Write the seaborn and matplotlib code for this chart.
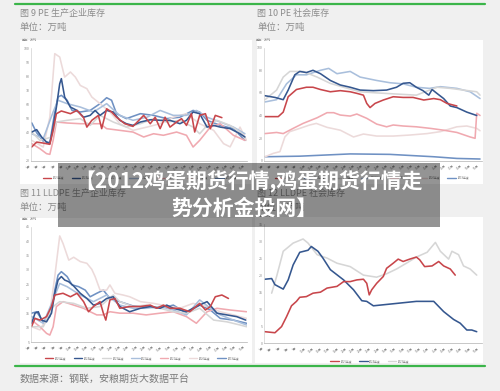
import matplotlib
matplotlib.use("Agg")
import matplotlib.pyplot as plt
from matplotlib.patches import Rectangle
from matplotlib.lines import Line2D
import seaborn as sns
import pandas as pd

# ---------------- data ----------------
years = ["2025年度", "2024年度", "2023年度", "2022年度", "2021年度", "2020年度", "2019年度"]
colors = ["#c8464b", "#35578f", "#d6d6d6", "#a9bfdc", "#f0a9b0", "#ecdada", "#6f91c3"]
tick_labels = [f"{w}周" for w in range(1, 54, 2)]

# Panel 1: PE 生产企业库存
p1_2025_x = [0, 0.6, 1.4, 2.2, 2.6, 3.0, 3.6, 4.7, 5.5, 6.3, 6.7, 7.3, 8.1, 8.5, 9.1, 9.7, 10.3, 11.3, 12.3, 13.6, 14.4, 15.0, 15.6, 16.2, 16.8, 17.6, 18.2, 18.8, 19.4, 19.8, 20.4, 21.1, 21.7, 22.3, 23.1]
p1_2025_y = [29.9, 33.4, 32.7, 31.8, 41.7, 53.5, 55.4, 53.5, 55.8, 50.7, 44, 48.8, 52.3, 42.9, 57, 54.7, 51, 46.4, 44.5, 52.3, 46.4, 51, 42.9, 51, 44, 47.6, 50, 45.2, 53.5, 40.5, 52.3, 53.5, 42.9, 52.3, 50.7]
p1_2024_x = [0, 0.6, 1.2, 1.8, 2.2, 2.6, 3.0, 3.4, 3.6, 4.0, 4.7, 5.5, 6.3, 7.1, 7.7, 8.3, 9.1, 9.9, 10.7, 11.5, 12.3, 13.2, 14.4, 15.6, 16.8, 18.0, 18.8, 19.6, 20.4, 21.3, 22.1, 22.9, 24.1, 25.3, 25.9]
p1_2024_y = [40.5, 42.2, 37, 33.4, 32.3, 44, 58.2, 74.7, 78.3, 65.3, 58.2, 55.8, 51, 52.3, 55.8, 52.3, 55.8, 54.7, 48.8, 46.4, 45.2, 47.6, 49.2, 48.8, 48.8, 46.4, 48.8, 54.7, 53.5, 44, 45.2, 44, 42.9, 39.3, 37]
p1_2023_x = [0, 1.0, 2.4, 3.0, 4.3, 5.9, 7.1, 8.3, 9.9, 11.5, 13.2, 14.8, 16.4, 18.0, 19.6, 20.4, 21.3, 22.5, 24.1, 25.3, 25.9]
p1_2023_y = [40.5, 34.6, 36.9, 47.6, 48.8, 50, 45.2, 52.3, 47.6, 44, 46.4, 50, 47.6, 48.8, 44, 39.3, 45.2, 48.8, 45.2, 40.5, 35.8]
p1_2022_x = [0, 1.4, 2.6, 3.2, 4.3, 5.9, 7.5, 9.1, 10.7, 12.3, 14.0, 15.6, 17.2, 18.8, 20.0, 21.3, 22.9, 24.5, 25.9]
p1_2022_y = [39.3, 35.8, 54.7, 63, 60.6, 58.2, 54.7, 60.6, 52.3, 48.8, 51, 55.8, 52.3, 52.3, 55.8, 51, 47.6, 44, 39.3]
p1_2021_x = [0, 1.0, 1.8, 2.2, 2.6, 3.0, 4.3, 5.9, 7.1, 8.3, 9.1, 10.7, 12.3, 13.6, 14.8, 16.0, 17.6, 18.8, 19.6, 20.4, 21.7, 22.9, 24.5, 25.9]
p1_2021_y = [32.3, 28.7, 25.2, 24.7, 34.6, 47.6, 46.9, 46.4, 46.4, 46.4, 42.9, 41.7, 40.5, 37, 39.3, 38.2, 40.5, 38.2, 29.9, 34.6, 44, 46.4, 38.2, 34.6]
p1_2020_x = [0, 1.4, 2.2, 2.8, 3.4, 4.0, 4.7, 5.3, 5.9, 6.7, 7.3, 8.3, 9.5, 10.7, 12.3, 14.0, 15.6, 17.2, 18.8, 20.4, 22.1, 23.3, 24.1, 25.3, 26.1]
p1_2020_y = [34.6, 29.9, 51, 96, 93.6, 79.4, 83, 79.4, 73.5, 71.2, 65.3, 60.6, 54.7, 46.4, 41.7, 44, 46.4, 51, 53.5, 46.4, 41.7, 32.3, 30, 44, 34.6]
p1_2019_x = [0, 0.6, 1.4, 2.2, 2.8, 3.2, 3.6, 4.3, 4.9, 5.9, 7.1, 8.3, 9.1, 9.7, 10.3, 11.5, 13.2, 14.8, 16.4, 18.0, 19.6, 20.4, 21.3, 22.9, 24.5, 25.9]
p1_2019_y = [47, 40, 34, 33, 54.7, 65.3, 66.5, 63, 55.8, 54.7, 55.8, 60.6, 64.8, 63, 53.5, 50, 53.5, 52.3, 50, 51, 55.8, 54.7, 48.8, 45.2, 42.9, 34.6]

# Panel 2: PE 社会库存
p2_2025_x = [0, 1.6, 2.2, 2.8, 3.8, 5.0, 5.8, 6.7, 7.9, 9.1, 10.3, 11.1, 11.9, 12.3, 12.7, 13.3, 14.3, 15.5, 16.7, 17.9, 19.2, 20.4, 21.2, 22.0, 23.2]
p2_2025_y = [39, 39, 43, 56.6, 63, 65, 65, 63, 61, 62, 61, 59.6, 58, 50.7, 47, 50.7, 53.7, 56.6, 56, 56, 53.7, 55, 54, 50.7, 48.4]
p2_2024_x = [0, 1.2, 2.2, 2.8, 3.6, 4.2, 5.0, 5.8, 6.7, 7.9, 9.1, 10.3, 11.5, 13.1, 14.7, 15.9, 16.7, 17.5, 18.3, 19.1, 19.8, 20.2, 20.8, 21.6, 22.4, 23.2, 24.4, 25.6]
p2_2024_y = [57.5, 56, 54, 62.5, 76, 79, 78, 80, 77, 71, 67, 65, 62.5, 62, 62.5, 65, 68.5, 69, 65, 62, 58, 63, 59.5, 55, 48.4, 47, 43, 40]
p2_2023_x = [0, 1.4, 2.2, 3.0, 4.6, 6.3, 7.9, 9.5, 11.5, 13.5, 15.9, 18.3, 19.9, 20.8, 22.4, 24.0, 25.6, 26.0]
p2_2023_y = [54, 62.5, 74, 79, 79, 74, 68.4, 65, 61, 60, 59, 58, 62.5, 65, 64, 62.5, 61, 58]
p2_2022_x = [0, 1.4, 2.6, 3.8, 5.0, 6.7, 7.7, 8.7, 10.3, 11.5, 13.5, 15.1, 16.7, 18.3, 19.9, 21.2, 23.2, 24.8, 26.0]
p2_2022_y = [52, 54, 68, 76, 76, 80, 81.7, 77, 79, 74, 71, 69, 68, 65, 64, 65.5, 64, 61, 55]
p2_2021_x = [0, 1.4, 2.2, 3.4, 4.6, 6.3, 7.5, 8.3, 9.1, 10.3, 11.1, 12.3, 13.5, 14.7, 15.5, 16.7, 18.3, 20.0, 21.6, 23.2, 24.8, 25.4, 25.6, 26.0]
p2_2021_y = [24, 25, 24, 28.6, 33, 38, 42.5, 42.5, 40.4, 39.5, 41.3, 37.5, 32.4, 30, 31.6, 30.7, 30, 28.6, 27, 25, 21, 19.8, 42, 40]
p2_2020_x = [0, 1.0, 1.8, 2.4, 3.0, 4.2, 5.4, 6.2, 7.5, 9.1, 10.7, 11.9, 13.5, 15.5, 17.5, 19.6, 21.2, 23.2, 24.4, 25.6, 26.0]
p2_2020_y = [3.5, 6.5, 8, 21, 25.7, 28.6, 31.6, 33, 29.5, 27, 21, 23.6, 21.8, 21.8, 22.7, 24, 25.7, 30, 30.7, 28.6, 26.5]
p2_2019_x = [0, 4.2, 10.3, 15.1, 20.4, 23.2, 26.0]
p2_2019_y = [3.5, 4, 6, 5.6, 3.5, 2, 1.5]

# Panel 3: LLDPE 生产企业库存
p3_2025_x = [0, 0.4, 1.0, 1.8, 2.4, 2.8, 3.8, 4.7, 5.5, 6.3, 6.9, 7.5, 8.3, 8.7, 9.0, 9.5, 10.1, 10.7, 11.9, 13.2, 14.4, 15.2, 16.0, 16.8, 18.0, 19.2, 20.4, 21.1, 21.7, 22.3, 23.1, 23.9]
p3_2025_y = [10.5, 13.2, 12.6, 13.8, 17.3, 21.3, 21.9, 20.7, 21.9, 19, 15.5, 17.3, 19, 15, 12.6, 19.6, 20.1, 16.7, 17.3, 17.3, 17.8, 16.7, 17.8, 16.7, 16.7, 15.5, 18.4, 16.1, 17.3, 20.7, 21.3, 20.1]
p3_2024_x = [0, 0.4, 0.8, 1.2, 1.8, 2.4, 2.8, 3.2, 3.6, 4.0, 4.5, 5.1, 5.9, 6.7, 7.5, 8.3, 9.1, 9.9, 10.7, 11.9, 13.2, 14.4, 15.6, 16.4, 17.2, 18.8, 20.0, 21.3, 22.5, 23.7, 24.9, 26.0]
p3_2024_y = [11.5, 15, 15.5, 12.6, 12, 15, 21.9, 26.5, 27.7, 26.5, 25.9, 24.4, 21.9, 20.1, 17.8, 18.4, 20.1, 20.7, 17.3, 15.5, 16.7, 17.3, 16.7, 17.8, 16.7, 15.5, 17.3, 19, 15, 14.4, 13.8, 12.6]
p3_2023_x = [0, 1.4, 2.6, 3.4, 5.1, 6.7, 8.3, 9.9, 10.7, 12.3, 13.9, 15.6, 17.2, 18.8, 20.4, 22.1, 23.7, 25.3, 26.1]
p3_2023_y = [10.3, 10.3, 17.3, 19, 18.4, 16.7, 17.3, 21.3, 19, 17.3, 17.8, 16.7, 15.5, 15, 16.7, 12.6, 12, 10.9, 10.3]
p3_2022_x = [0, 1.4, 2.6, 3.4, 4.3, 5.9, 7.5, 9.1, 10.7, 12.3, 13.9, 15.6, 17.2, 18.8, 20.4, 21.7, 22.9, 24.5, 26.1]
p3_2022_y = [13.8, 11.5, 19.6, 25.3, 24.2, 21.3, 19, 21.3, 17.8, 16.7, 16.7, 17.3, 16.1, 14.4, 19.6, 16.7, 14.4, 12.6, 10.9]
p3_2021_x = [0, 1.0, 1.8, 2.2, 2.6, 3.0, 3.8, 5.1, 6.3, 7.1, 7.9, 8.7, 9.5, 10.7, 12.3, 13.9, 15.6, 17.2, 18.8, 20.0, 21.3, 22.5, 24.1, 26.1]
p3_2021_y = [12.6, 10.3, 8, 7.4, 10.3, 17.3, 19, 17.8, 16.7, 15.5, 14.4, 14.4, 15.5, 15, 15, 14.4, 15, 15.5, 13.8, 11.5, 15.5, 16.7, 16.1, 15.5]
p3_2020_x = [0, 1.0, 2.2, 2.8, 3.4, 3.8, 4.5, 5.1, 5.9, 6.7, 7.3, 7.7, 8.3, 9.1, 9.5, 10.1, 11.1, 11.9, 13.2, 14.8, 16.4, 18.0, 19.6, 21.3, 22.9, 24.5, 26.1]
p3_2020_y = [10.3, 9.2, 15, 27.7, 41.8, 39.2, 33.4, 34.4, 32.9, 32.3, 30.2, 27.7, 23, 23, 24.8, 21.9, 21.3, 20.7, 19, 18.4, 17.5, 16.7, 18.4, 17.3, 15.5, 14.4, 13.2]
p3_2019_x = [0, 0.6, 1.4, 2.2, 2.8, 3.2, 3.6, 4.3, 4.9, 5.7, 6.5, 7.1, 7.9, 8.7, 9.5, 10.7, 12.3, 13.9, 15.6, 17.2, 18.8, 20.4, 21.7, 22.9, 24.5, 26.1]
p3_2019_y = [15, 15.5, 12, 13.8, 23, 28.2, 29.4, 27.7, 24.8, 24.2, 23, 20.7, 21.9, 23, 20.1, 19, 17.5, 17.3, 16.7, 17.8, 15, 17.8, 16.1, 13.2, 12.6, 11.5]

# Panel 4: LLDPE 社会库存
p4_2025_x = [0, 1.2, 2.0, 2.6, 3.2, 3.8, 4.2, 5.0, 5.8, 6.7, 7.5, 8.7, 9.5, 10.3, 11.1, 11.9, 12.3, 12.6, 12.9, 13.5, 14.3, 14.7, 15.5, 16.1, 16.7, 17.5, 18.3, 18.7, 19.3, 20.2, 21.0, 21.6, 22.4, 23.0]
p4_2025_y = [3.4, 3.1, 4.9, 7.8, 11, 12.3, 13.5, 13.7, 14.7, 15, 16.2, 16.7, 18.1, 18.1, 18.6, 18.8, 17.6, 14.2, 15.7, 17.6, 19.6, 22, 23.5, 24.7, 24, 24.7, 25.3, 24.5, 22.5, 22.7, 24, 22.7, 21.8, 20]
p4_2024_x = [0, 0.8, 1.2, 2.2, 2.8, 3.4, 4.2, 5.2, 5.6, 6.4, 7.0, 7.9, 9.5, 10.7, 11.7, 12.3, 13.1, 14.3, 16.3, 18.3, 20.4, 21.6, 22.8, 23.6, 24.4, 25.0, 25.6]
p4_2024_y = [18.8, 19, 17.2, 15.9, 18.6, 23, 26.7, 27.3, 28.4, 27, 25, 21.6, 18.6, 15.7, 12.5, 12.3, 11, 11.3, 11.8, 12.3, 12.3, 9.3, 7, 5.9, 3.9, 3.9, 3.4]
p4_2023_x = [0.8, 1.4, 2.2, 3.4, 4.6, 5.2, 6.3, 7.5, 8.7, 10.3, 11.9, 13.5, 14.7, 15.9, 17.1, 18.3, 19.6, 20.6, 21.2, 22.2, 22.6, 23.4, 24.0, 24.8, 25.6]
p4_2023_y = [14.7, 19.6, 27, 29.4, 30.6, 29.4, 26, 25, 23.5, 22.5, 20, 19.4, 20.4, 21.8, 23.5, 25.3, 26.7, 29.6, 27, 24.7, 27, 26, 22.7, 21.8, 20]

# ---------------- figure ----------------
sns.set_theme(style="white")
plt.rcParams["font.family"] = ["Noto Sans CJK SC", "DejaVu Sans"]
plt.rcParams["axes.unicode_minus"] = False

W, H = 500, 391
fig = plt.figure(figsize=(5, 3.91), dpi=100, facecolor="#f0f0f0")

def fx(px):
    return px / W

def fy(py):
    return 1 - py / H

def frect(x0, y0, x1, y1, **kw):
    r = Rectangle((fx(x0), fy(y1)), (x1 - x0) / W, (y1 - y0) / H,
                  transform=fig.transFigure, **kw)
    fig.add_artist(r)
    return r

def ftext(x, y, s, **kw):
    return fig.text(fx(x), fy(y), s, **kw)

# white panel boxes
for box in [(20, 40, 252, 184), (257, 40, 483, 184), (20, 218, 252, 363), (255, 217, 483, 363)]:
    frect(*box, facecolor="white", edgecolor="none", zorder=-1)

# green separator lines
for yy in (3.5, 366):
    fig.add_artist(Line2D([fx(15), fx(485)], [fy(yy), fy(yy)], transform=fig.transFigure,
                          color="#3bb54a", lw=1.6, zorder=2))

title_color = "#8c8c8c"
titles = [("图 9 PE 生产企业库存", 20, 13), ("图 10 PE 社会库存", 257, 13),
          ("图 11 LLDPE 生产企业库存", 20, 193), ("图 12 LLDPE 社会库存", 257, 193)]
for s, x, y in titles:
    ftext(x, y, s, fontsize=6.5, color=title_color, va="center", ha="left")
    ftext(x, y + 14.5, "单位：万吨", fontsize=6.8, color=title_color, va="center", ha="left")

ftext(20, 379, "数据来源：钢联，安粮期货大数据平台", fontsize=7.2, color="#7a7a7a", va="center", ha="left")


def make_panel(rect_px, ylim, yticks, series, legend_center, legend_years):
    x0, y0, x1, y1 = rect_px
    ax = fig.add_axes([fx(x0), fy(y1), (x1 - x0) / W, (y1 - y0) / H])
    ax.set_facecolor("white")
    rows = []
    for yr, xs, ys in series:
        for a, b in zip(xs, ys):
            rows.append({"t": a, "v": b, "year": yr})
    df = pd.DataFrame(rows)
    order = [y for y in years if y in legend_years]
    pal = {y: colors[years.index(y)] for y in order}
    draw_order = order[::-1]
    sns.lineplot(data=df, x="t", y="v", hue="year", hue_order=draw_order, palette=pal,
                 estimator=None, sort=False, lw=1.15, ax=ax, legend=False)
    ax.set_xlim(-0.1, 26.2)
    ax.set_ylim(*ylim)
    ax.set_yticks(yticks)
    ax.set_yticklabels([str(v) for v in yticks], fontsize=2.6, color="#888888")
    ax.set_xticks(range(27))
    ax.set_xticklabels(tick_labels, fontsize=2.2, rotation=45, ha="right", color="#888888")
    ax.tick_params(axis="x", length=1.2, width=0.4, color="#aaaaaa", pad=0.8)
    ax.tick_params(axis="y", length=0, pad=1)
    ax.set_xlabel("")
    ax.set_ylabel("")
    for side in ("top", "right"):
        ax.spines[side].set_visible(False)
    ax.spines["left"].set_color("#d0d0d0")
    ax.spines["left"].set_linewidth(0.5)
    ax.spines["bottom"].set_color("#b0b0b0")
    ax.spines["bottom"].set_linewidth(0.5)
    ax.text(-0.04, 1.05, "单位：万吨", transform=ax.transAxes, fontsize=2.2, color="#888888",
            ha="left", va="bottom")
    handles = [Line2D([0], [0], color=pal[y], lw=1.0) for y in order]
    fig.legend(handles, order, loc="center", bbox_to_anchor=(fx(legend_center[0]), fy(legend_center[1])),
               ncol=len(order), fontsize=2.0, frameon=False, handlelength=3.0,
               columnspacing=2.6, handletextpad=0.6, labelcolor="#777777")
    return ax

p1_series = [("2025年度", p1_2025_x, p1_2025_y), ("2024年度", p1_2024_x, p1_2024_y),
             ("2023年度", p1_2023_x, p1_2023_y), ("2022年度", p1_2022_x, p1_2022_y),
             ("2021年度", p1_2021_x, p1_2021_y), ("2020年度", p1_2020_x, p1_2020_y),
             ("2019年度", p1_2019_x, p1_2019_y)]
p2_series = [("2025年度", p2_2025_x, p2_2025_y), ("2024年度", p2_2024_x, p2_2024_y),
             ("2023年度", p2_2023_x, p2_2023_y), ("2022年度", p2_2022_x, p2_2022_y),
             ("2021年度", p2_2021_x, p2_2021_y), ("2020年度", p2_2020_x, p2_2020_y),
             ("2019年度", p2_2019_x, p2_2019_y)]
p3_series = [("2025年度", p3_2025_x, p3_2025_y), ("2024年度", p3_2024_x, p3_2024_y),
             ("2023年度", p3_2023_x, p3_2023_y), ("2022年度", p3_2022_x, p3_2022_y),
             ("2021年度", p3_2021_x, p3_2021_y), ("2020年度", p3_2020_x, p3_2020_y),
             ("2019年度", p3_2019_x, p3_2019_y)]
p4_series = [("2025年度", p4_2025_x, p4_2025_y), ("2024年度", p4_2024_x, p4_2024_y),
             ("2023年度", p4_2023_x, p4_2023_y)]

make_panel((30.9, 48, 247.4, 161), (20, 100), list(range(20, 101, 10)), p1_series, (140, 177.5), years)
make_panel((264.2, 47.7, 481.7, 160.7), (0, 100), list(range(0, 101, 20)), p2_series, (372, 177.5), years)
make_panel((30.9, 226.7, 247.4, 342), (5, 45), list(range(5, 46, 5)), p3_series, (142, 358), years)
make_panel((264.2, 224, 481.7, 343.3), (0, 35), list(range(0, 36, 5)), p4_series, (370, 361), years[:3])

# overlay banner
frect(58, 163, 440, 227, facecolor="black", edgecolor="none", alpha=0.42, zorder=20)
ftext(248, 182, "【2012鸡蛋期货行情,鸡蛋期货行情走", fontsize=15, fontweight="bold",
      color="white", ha="center", va="center", zorder=21)
ftext(244, 208, "势分析金投网】", fontsize=15, fontweight="bold",
      color="white", ha="center", va="center", zorder=21)

fig.savefig("out.png", dpi=100, facecolor=fig.get_facecolor())
